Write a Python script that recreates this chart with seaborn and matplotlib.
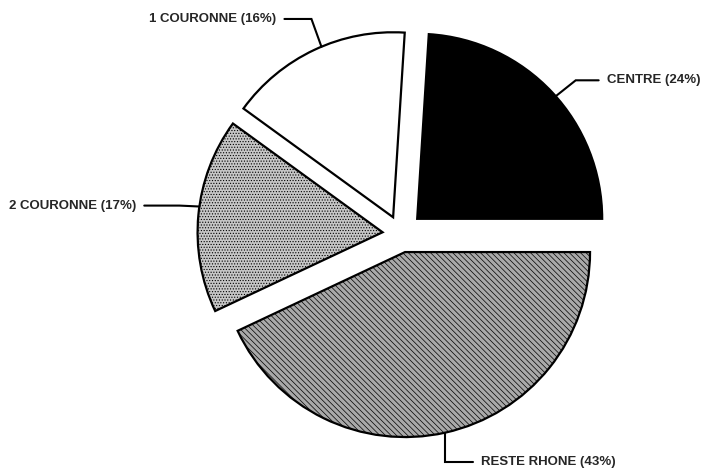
import numpy as np
import matplotlib
matplotlib.use("Agg")
import matplotlib.pyplot as plt
import seaborn as sns

# Données
labels = ["CENTRE (24%)", "RESTE RHONE (43%)", "2 COURONNE (17%)", "1 COURONNE (16%)"]
parts = [24, 43, 17, 16]
colors = ["#000000", "#a9a9a9", "#c6c6c6", "#ffffff"]
hatches = ["", "\\\\\\\\\\\\", "......", ""]
explode = [0.12, 0.1, 0.1, 0.1]

sns.set_theme(style="white")
plt.rcParams["font.family"] = ["Liberation Sans", "DejaVu Sans"]
plt.rcParams["hatch.linewidth"] = 0.5
plt.rcParams["hatch.color"] = "#5a5a5a"

W, H = 707, 469
cx, cy, R = 401, 234, 185  # centre et rayon en pixels

fig = plt.figure(figsize=(W / 100, H / 100), dpi=100)
ax = fig.add_axes([0, 0, 1, 1])

# le secteur CENTRE se termine à l'horizontale
start = 360 * parts[0] / sum(parts)
wedges, _ = ax.pie(
    parts,
    colors=colors,
    startangle=start,
    counterclock=False,
    explode=explode,
    wedgeprops=dict(edgecolor="black", linewidth=1.6),
)
for w, h in zip(wedges, hatches):
    w.set_hatch(h)

ax.set_xlim(-cx / R, (W - cx) / R)
ax.set_ylim(-(H - cy) / R, cy / R)
ax.set_aspect("equal")
ax.axis("off")

# Lignes de rappel : angle du point d'attache, coude (dx, dy), longueur horizontale
leaders = [
    (41.5, (0.108, 0.086), 0.124, "left"),
    (-77.5, (0.0, -0.16), 0.15, "left"),
    (172, (-0.108, 0.005), -0.19, "right"),
    (112.8, (-0.054, 0.15), -0.146, "right"),
]

for w, lab, (ang, (ex, ey), hl, ha) in zip(wedges, labels, leaders):
    x0, y0 = w.center
    a = np.deg2rad(ang)
    px, py = x0 + w.r * np.cos(a), y0 + w.r * np.sin(a)
    kx, ky = px + ex, py + ey
    lx = kx + hl
    ax.plot([px, kx, lx], [py, ky, ky], color="black", lw=1.5, solid_joinstyle="miter")
    tx = lx + (0.043 if ha == "left" else -0.043)
    ax.text(tx, ky, lab, ha=ha, va="center", fontsize=9.5, fontweight="bold")

fig.savefig("out.png", dpi=100, facecolor="white")
